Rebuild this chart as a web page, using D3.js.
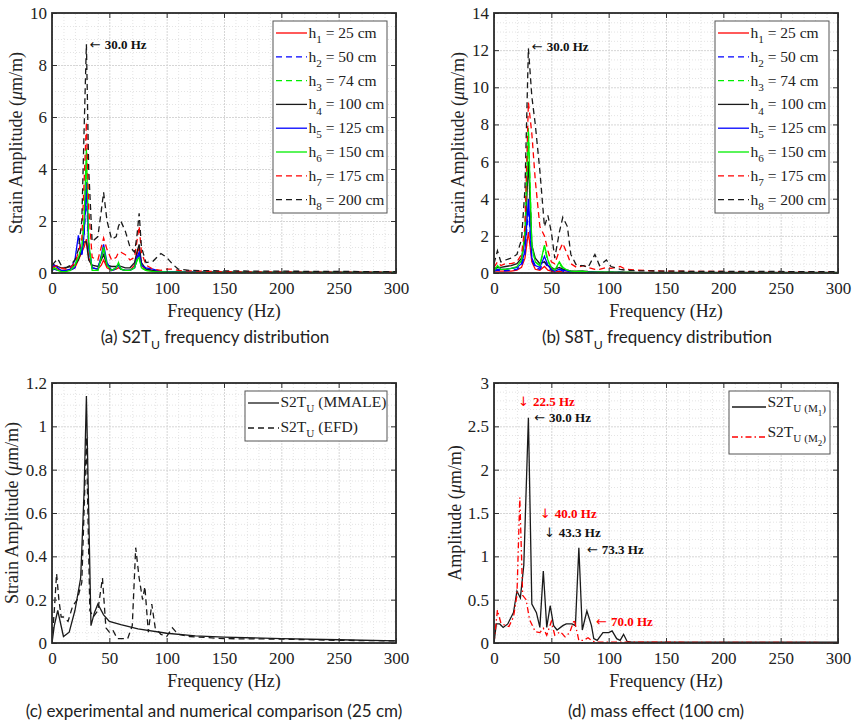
<!DOCTYPE html>
<html>
<head>
<meta charset="utf-8">
<script src="https://cdn.jsdelivr.net/npm/d3@7"></script>
<style>
body { margin: 0; background: #fff; }
svg text { font-family: "Liberation Serif", "Times New Roman", serif; }
svg text.cap { font-family: Lato, "Open Sans", sans-serif; }
svg tspan.arr { font-family: "DejaVu Sans", sans-serif; }
</style>
</head>
<body>
<div id="vis"></div>
<script>
// ---- datos ----
const heights = [25, 50, 74, 100, 125, 150, 175, 200];

// (a) S2TU
const freqA = [0,2,5,8,12,16,20,23,26,28,30,32,35,40,43,45,48,52,56,58,60,64,68,72,74,76,78,82,88,95,100,105,110,120,150,200,250,300];
const h1A = [0.15,0.2,0.15,0.1,0.1,0.12,0.2,0.5,0.8,1.0,1.3,0.6,0.2,0.15,0.3,0.5,0.2,0.1,0.15,0.2,0.15,0.1,0.1,0.3,0.7,1.0,0.3,0.1,0.08,0.05,0.05,0.04,0.03,0.03,0.02,0.02,0.02,0.02];
const h2A = [0.1,0.15,0.1,0.08,0.08,0.1,0.2,0.6,0.7,1.5,3.0,1.0,0.2,0.15,0.6,0.9,0.3,0.1,0.15,0.3,0.15,0.1,0.1,0.2,0.5,0.7,0.25,0.15,0.1,0.05,0.05,0.04,0.03,0.03,0.02,0.02,0.02,0.02];
const h3A = [0.1,0.2,0.1,0.05,0.05,0.1,0.3,0.7,0.9,2.0,4.2,1.2,0.15,0.1,0.6,0.9,0.3,0.1,0.2,0.35,0.15,0.1,0.1,0.2,0.45,0.6,0.2,0.1,0.05,0.04,0.04,0.03,0.03,0.02,0.02,0.02,0.02,0.02];
const h4A = [0.35,0.3,0.25,0.2,0.2,0.25,0.3,0.5,0.9,1.2,1.2,0.5,0.3,0.25,0.5,0.7,0.3,0.25,0.25,0.3,0.25,0.2,0.2,0.4,0.8,1.1,0.4,0.15,0.1,0.05,0.05,0.04,0.04,0.03,0.03,0.02,0.02,0.02];
const h5A = [0.2,0.3,0.2,0.1,0.1,0.15,0.5,1.45,0.7,1.5,3.5,1.0,0.2,0.15,0.7,1.1,0.4,0.1,0.2,0.35,0.15,0.1,0.1,0.2,0.6,0.8,0.3,0.2,0.15,0.05,0.05,0.04,0.03,0.03,0.02,0.02,0.02,0.02];
const h6A = [0.1,0.2,0.1,0.05,0.05,0.1,0.3,0.6,1.0,2.0,4.8,1.2,0.1,0.1,0.6,1.0,0.3,0.1,0.2,0.4,0.15,0.1,0.1,0.2,0.5,0.6,0.2,0.1,0.05,0.04,0.04,0.03,0.03,0.02,0.02,0.02,0.02,0.02];
const h7A = [0.2,0.25,0.3,0.2,0.15,0.2,0.4,0.8,1.3,3.5,5.8,2.5,0.6,0.5,1.0,1.35,0.9,0.5,0.6,0.8,0.8,0.7,0.5,0.6,1.2,1.8,0.8,0.3,0.15,0.1,0.15,0.15,0.1,0.08,0.05,0.04,0.03,0.03];
const h8A = [0.3,0.4,0.55,0.3,0.2,0.3,0.5,0.9,2.0,5.5,8.8,4.0,1.2,1.4,2.4,3.1,2.0,1.3,1.4,1.8,2.0,1.6,1.0,0.8,1.4,2.3,1.0,0.4,0.45,0.75,0.6,0.35,0.15,0.1,0.08,0.07,0.06,0.05];

// (b) S8TU
const freqB = [0,3,6,10,15,20,24,27,30,33,36,40,44,47,50,53,57,60,64,67,72,78,82,88,92,98,102,110,115,125,150,200,250,300];
const h1B = [0.1,0.1,0.1,0.1,0.1,0.15,0.3,0.8,2.2,0.6,0.2,0.15,0.35,0.15,0.1,0.05,0.1,0.05,0.05,0.05,0.05,0.05,0.04,0.04,0.03,0.03,0.03,0.03,0.02,0.02,0.02,0.02,0.02,0.02];
const h2B = [0.1,0.15,0.12,0.12,0.15,0.2,0.4,1.0,3.5,0.7,0.3,0.2,0.6,0.3,0.15,0.1,0.2,0.1,0.08,0.06,0.05,0.05,0.04,0.04,0.03,0.03,0.03,0.03,0.02,0.02,0.02,0.02,0.02,0.02];
const h3B = [0.15,0.3,0.2,0.2,0.25,0.3,0.6,2.0,7.8,1.4,0.6,0.4,1.4,0.6,0.3,0.15,0.5,0.25,0.15,0.1,0.08,0.1,0.06,0.05,0.04,0.04,0.04,0.03,0.03,0.02,0.02,0.02,0.02,0.02];
const h4B = [0.25,0.3,0.3,0.35,0.4,0.5,0.8,1.8,6.0,1.5,0.8,0.5,0.6,0.4,0.3,0.2,0.3,0.2,0.15,0.1,0.1,0.1,0.08,0.06,0.05,0.05,0.05,0.04,0.04,0.03,0.03,0.03,0.03,0.03];
const h5B = [0.15,0.2,0.2,0.2,0.25,0.3,0.5,1.2,4.0,0.8,0.4,0.3,0.9,0.4,0.2,0.1,0.2,0.15,0.1,0.06,0.05,0.05,0.04,0.04,0.03,0.03,0.03,0.03,0.02,0.02,0.02,0.02,0.02,0.02];
const h6B = [0.1,0.4,0.2,0.2,0.25,0.35,0.7,2.2,7.6,1.5,0.6,0.4,1.5,0.7,0.3,0.15,0.6,0.3,0.15,0.1,0.08,0.08,0.06,0.05,0.04,0.04,0.04,0.03,0.03,0.02,0.02,0.02,0.02,0.02];
const h7B = [0.3,0.6,0.4,0.5,0.5,0.6,1.0,2.5,9.2,7.5,5.0,2.5,2.0,1.2,0.6,0.5,1.2,1.6,1.0,0.5,0.3,0.4,0.3,0.2,0.2,0.3,0.25,0.35,0.2,0.15,0.1,0.08,0.07,0.06];
const h8B = [0.5,1.2,0.6,0.7,0.8,1.0,1.8,4.5,12.1,9.5,8.0,5.5,2.5,3.1,2.2,0.8,2.2,3.0,2.5,1.0,0.4,0.4,0.3,1.0,0.4,0.7,0.35,0.2,0.15,0.12,0.1,0.08,0.08,0.07];

// (c) comparacion 25 cm
const freqCm = [0,2,5,10,15,20,25,28,30,34,37,40,45,50,60,75,100,125,150,200,250,300];
const ampCm = [0,0.08,0.15,0.03,0.05,0.15,0.3,0.7,1.14,0.08,0.14,0.18,0.13,0.1,0.085,0.065,0.045,0.033,0.027,0.02,0.015,0.01];
const freqCe = [0,2,4,6,8,10,14,18,22,26,30,33,36,40,44,47,50,53,57,62,66,70,73,76,79,81,84,87,90,95,100,105,110,120,150,200,250,300];
const ampCe = [0,0.15,0.32,0.2,0.12,0.12,0.1,0.17,0.2,0.28,0.95,0.15,0.12,0.15,0.3,0.07,0.05,0.06,0.02,0.02,0.02,0.08,0.44,0.3,0.2,0.26,0.05,0.18,0.07,0.04,0.03,0.07,0.04,0.03,0.02,0.018,0.012,0.01];

// (d) efecto de masa 100 cm
const freqDm = [0,2,5,8,12,17,20,23,26,30,33,37,40,43,46,49,52,55,60,63,68,71,74,77,81,85,87,90,95,100,103,107,110,113,116,120,150,300];
const ampDm = [0,0.22,0.22,0.18,0.22,0.35,0.6,0.52,0.9,2.6,0.45,0.35,0.18,0.83,0.18,0.43,0.2,0.15,0.2,0.22,0.22,0.2,1.1,0.15,0.37,0.2,0.05,0.03,0.12,0.12,0.14,0.05,0.03,0.1,0.02,0.01,0.01,0.01];
const freqDr = [0,3,6,10,13,17,20,22.5,25,28,31,36,40,43,46,50,53,58,62,66,70,74,78,82,86,90,100,300];
const ampDr = [0,0.38,0.23,0.2,0.19,0.3,0.55,1.68,0.55,0.5,0.27,0.13,0.12,0.17,0.09,0.25,0.09,0.13,0.07,0.12,0.27,0.03,0.03,0.06,0.02,0.01,0.01,0.005];

// ---- estilos ----
const RED = "#ff0000", BLUE = "#0000ff", GREEN = "#00ee00", BLACK = "#1a1a1a";
const SOLID = null, DASH = "6,4", DASHDOT = "6,3,1.5,3";
const hStyles = [
  [RED, SOLID], [BLUE, DASH], [GREEN, DASH], [BLACK, SOLID],
  [BLUE, SOLID], [GREEN, SOLID], [RED, DASH], [BLACK, DASH]
];
const SERIF = "'Liberation Serif', 'Times New Roman', serif";

const SVG = d3.select("#vis").append("svg").attr("width", 853).attr("height", 724);
const PLOT_W = 344, PLOT_H = 260;

// texto con subindices: parts = [[texto, nivel], ...]
function rich(sel, parts, size) {
  const offs = [0, size * 0.33, size * 0.6];
  const sizes = [size, size * 0.72, size * 0.58];
  let cur = 0;
  parts.forEach(([s, lvl]) => {
    sel.append("tspan")
      .attr("dy", offs[lvl] - offs[cur])
      .attr("font-size", sizes[lvl])
      .text(s);
    cur = lvl;
  });
}

function hSeries(freq, arrs) {
  return arrs.map((vals, i) => ({
    pts: freq.map((f, j) => [f, vals[j]]),
    color: hStyles[i][0], dash: hStyles[i][1],
    label: [["h", 0], [String(i + 1), 1], [" = " + heights[i] + " cm", 0]]
  }));
}

function drawPanel(p) {
  const g = SVG.append("g");
  const x = d3.scaleLinear().domain([0, 300]).range([p.left, p.left + PLOT_W]);
  const y = d3.scaleLinear().domain([0, p.yMax]).range([p.top + PLOT_H, p.top]);
  const nMaj = Math.round(p.yMax / p.yStep);
  const yTicks = d3.range(nMaj + 1).map(i => +(i * p.yStep).toFixed(3));
  const nMin = Math.round(p.yMax / p.yMinor);
  const yMinor = d3.range(nMin + 1).map(i => +(i * p.yMinor).toFixed(3)).filter(v => !yTicks.includes(v));
  const xTicks = d3.range(0, 301, 50);
  const xMinor = d3.range(0, 301, 10).filter(v => v % 50 !== 0);

  // grid menor
  g.append("g").attr("transform", `translate(0,${p.top + PLOT_H})`)
    .call(d3.axisBottom(x).tickValues(xMinor).tickSize(-PLOT_H).tickFormat(""))
    .call(a => a.select(".domain").remove())
    .selectAll("line").attr("stroke", "#e4e4e4").attr("stroke-dasharray", "1,2");
  g.append("g").attr("transform", `translate(${p.left},0)`)
    .call(d3.axisLeft(y).tickValues(yMinor).tickSize(-PLOT_W).tickFormat(""))
    .call(a => a.select(".domain").remove())
    .selectAll("line").attr("stroke", "#e4e4e4").attr("stroke-dasharray", "1,2");
  // grid mayor
  g.append("g").attr("transform", `translate(0,${p.top + PLOT_H})`)
    .call(d3.axisBottom(x).tickValues(xTicks).tickSize(-PLOT_H).tickFormat(""))
    .call(a => a.select(".domain").remove())
    .selectAll("line").attr("stroke", "#d6d6d6").attr("stroke-dasharray", "2,1");
  g.append("g").attr("transform", `translate(${p.left},0)`)
    .call(d3.axisLeft(y).tickValues(yTicks).tickSize(-PLOT_W).tickFormat(""))
    .call(a => a.select(".domain").remove())
    .selectAll("line").attr("stroke", "#d6d6d6").attr("stroke-dasharray", "2,1");

  // curvas
  const clipId = "clip-" + p.id;
  SVG.append("clipPath").attr("id", clipId).append("rect")
    .attr("x", p.left).attr("y", p.top).attr("width", PLOT_W).attr("height", PLOT_H);
  const line = d3.line().x(d => x(d[0])).y(d => y(d[1]));
  g.append("g").attr("clip-path", `url(#${clipId})`)
    .selectAll("path").data(p.series).join("path")
    .attr("d", d => line(d.pts))
    .attr("fill", "none")
    .attr("stroke", d => d.color)
    .attr("stroke-width", 1.3)
    .attr("stroke-dasharray", d => d.dash);

  // ejes con ticks hacia adentro
  const fmt = d => String(d);
  const bx = g.append("g").attr("transform", `translate(0,${p.top + PLOT_H})`)
    .call(d3.axisBottom(x).tickValues(xTicks).tickSize(-5).tickPadding(9));
  const ly = g.append("g").attr("transform", `translate(${p.left},0)`)
    .call(d3.axisLeft(y).tickValues(yTicks).tickSize(-5).tickPadding(5).tickFormat(fmt));
  g.append("g").attr("transform", `translate(0,${p.top})`)
    .call(d3.axisTop(x).tickValues(xTicks).tickSize(-5).tickFormat(""));
  g.append("g").attr("transform", `translate(${p.left + PLOT_W},0)`)
    .call(d3.axisRight(y).tickValues(yTicks).tickSize(-5).tickFormat(""));
  g.selectAll(".domain").remove();
  g.selectAll(".tick line").filter(function () { return this.getAttribute("stroke") === "currentColor"; })
    .attr("stroke", "#333");
  [bx, ly].forEach(a => a.selectAll("text")
    .attr("font-family", SERIF)
    .attr("font-size", 17).attr("fill", "#222"));

  g.append("rect")
    .attr("x", p.left).attr("y", p.top).attr("width", PLOT_W).attr("height", PLOT_H)
    .attr("fill", "none").attr("stroke", "#2a2a2a").attr("stroke-width", 1.8);

  // etiquetas de ejes
  g.append("text")
    .attr("x", p.left + PLOT_W / 2).attr("y", p.top + PLOT_H + 44)
    .attr("text-anchor", "middle").attr("font-family", SERIF)
    .attr("font-weight", "normal").attr("font-size", 18).attr("fill", "#222")
    .text("Frequency (Hz)");
  const yl = g.append("text")
    .attr("transform", `translate(${p.left - p.yLabelOff},${p.top + PLOT_H / 2}) rotate(-90)`)
    .attr("text-anchor", "middle").attr("font-family", SERIF)
    .attr("font-size", 18).attr("fill", "#222");
  yl.append("tspan").text(p.yLabel + " (");
  yl.append("tspan").attr("font-style", "italic").text("\u03bc");
  yl.append("tspan").text("m/m)");

  // anotaciones
  const an = g.selectAll("text.ann").data(p.notes).join("text")
    .attr("class", "ann")
    .attr("x", d => x(d.f)).attr("y", d => y(d.a) + 4.5)
    .attr("font-family", SERIF)
    .attr("font-size", 13).attr("font-weight", "bold")
    .attr("fill", d => d.color);
  an.append("tspan").attr("class", "arr").attr("font-size", 13).attr("font-weight", "normal").text(d => d.arrow);
  an.append("tspan").attr("dx", 4).text(d => d.text);

  // leyenda
  const L = p.legend;
  const lg = g.append("g").attr("transform", `translate(${p.left + L.dx},${p.top + L.dy})`);
  lg.append("rect").attr("width", L.w).attr("height", L.h)
    .attr("fill", "#fff").attr("stroke", "#555").attr("stroke-width", 1);
  p.series.forEach((s, i) => {
    const ry = L.row0 + i * L.rowH;
    lg.append("line")
      .attr("x1", 3).attr("x2", L.lineLen).attr("y1", ry).attr("y2", ry)
      .attr("stroke", s.color).attr("stroke-width", 1.3).attr("stroke-dasharray", s.dash);
    const t = lg.append("text")
      .attr("x", L.lineLen + 1.5).attr("y", ry + L.textDy)
      .attr("font-family", SERIF)
      .attr("font-size", 15.5).attr("fill", "#222");
    rich(t, s.label, 15.5);
  });

  // pie de figura
  const cap = SVG.append("text").attr("class", "cap")
    .attr("x", p.capX).attr("y", p.capY)
    .attr("text-anchor", "middle").attr("fill", "#222").attr("font-size", 17);
  rich(cap, p.caption, 17);
}

const legendH = { dx: 221, dy: 8, w: 114, h: 192, row0: 12, rowH: 23.8, lineLen: 34, textDy: 5 };

drawPanel({
  id: "a", left: 52, top: 13, yMax: 10, yStep: 2, yMinor: 0.5,
  yLabel: "Strain Amplitude", yLabelOff: 30,
  series: hSeries(freqA, [h1A, h2A, h3A, h4A, h5A, h6A, h7A, h8A]),
  notes: [{ f: 33, a: 8.8, arrow: "\u2190", text: "30.0 Hz", color: "#111" }],
  legend: legendH,
  caption: [["(a)  S2T", 0], ["U", 1], [" frequency distribution", 0]],
  capX: 215, capY: 343
});

drawPanel({
  id: "b", left: 494, top: 13, yMax: 14, yStep: 2, yMinor: 0.5,
  yLabel: "Strain Amplitude", yLabelOff: 30,
  series: hSeries(freqB, [h1B, h2B, h3B, h4B, h5B, h6B, h7B, h8B]),
  notes: [{ f: 33, a: 12.2, arrow: "\u2190", text: "30.0 Hz", color: "#111" }],
  legend: legendH,
  caption: [["(b) S8T", 0], ["U", 1], [" frequency distribution", 0]],
  capX: 657, capY: 343
});

drawPanel({
  id: "c", left: 52, top: 383, yMax: 1.2, yStep: 0.2, yMinor: 0.05,
  yLabel: "Strain Amplitude", yLabelOff: 34,
  series: [
    { pts: freqCm.map((f, j) => [f, ampCm[j]]), color: BLACK, dash: SOLID,
      label: [["S2T", 0], ["U", 1], [" (MMALE)", 0]] },
    { pts: freqCe.map((f, j) => [f, ampCe[j]]), color: BLACK, dash: DASH,
      label: [["S2T", 0], ["U", 1], [" (EFD)", 0]] }
  ],
  notes: [],
  legend: { dx: 193, dy: 8, w: 142, h: 50, row0: 12, rowH: 25, lineLen: 34, textDy: 4 },
  caption: [["(c) experimental and numerical comparison (25 cm)", 0]],
  capX: 214, capY: 717
});

drawPanel({
  id: "d", left: 494, top: 383, yMax: 3, yStep: 0.5, yMinor: 0.1,
  yLabel: "Amplitude", yLabelOff: 33,
  series: [
    { pts: freqDm.map((f, j) => [f, ampDm[j]]), color: BLACK, dash: SOLID,
      label: [["S2T", 0], ["U (M", 1], ["1", 2], [")", 1]] },
    { pts: freqDr.map((f, j) => [f, ampDr[j]]), color: RED, dash: DASHDOT,
      label: [["S2T", 0], ["U (M", 1], ["2", 2], [")", 1]] }
  ],
  notes: [
    { f: 21, a: 2.79, arrow: "\u2193", text: "22.5 Hz", color: RED },
    { f: 35, a: 2.6, arrow: "\u2190", text: "30.0 Hz", color: "#111" },
    { f: 40, a: 1.49, arrow: "\u2193", text: "40.0 Hz", color: RED },
    { f: 43.5, a: 1.28, arrow: "\u2193", text: "43.3 Hz", color: "#111" },
    { f: 81, a: 1.08, arrow: "\u2190", text: "73.3 Hz", color: "#111" },
    { f: 89, a: 0.25, arrow: "\u2190", text: "70.0 Hz", color: RED }
  ],
  legend: { dx: 235, dy: 8, w: 101, h: 63, row0: 16, rowH: 30, lineLen: 37, textDy: 0 },
  caption: [["(d) mass effect (100 cm)", 0]],
  capX: 656, capY: 717
});
</script>
</body>
</html>
